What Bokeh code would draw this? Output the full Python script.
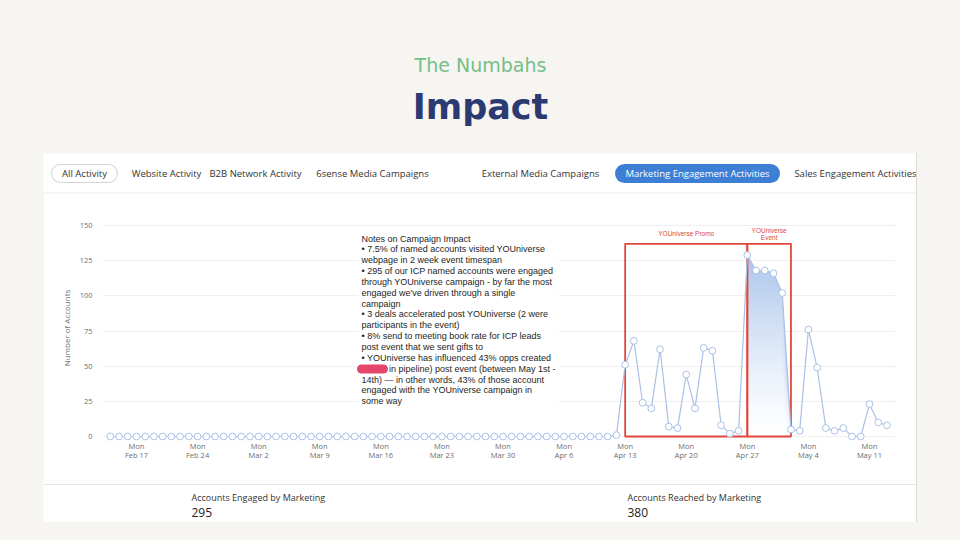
from datetime import datetime, timedelta
import pandas as pd
from bokeh.plotting import figure
from bokeh.models import Range1d, FixedTicker, Label, Spacer, ColumnDataSource
from bokeh.layouts import column, row
from bokeh.core.properties import value
from bokeh.embed import file_html
from bokeh.resources import INLINE

# ---------------- data ----------------
first_day = "2020-02-14"
last_day = "2020-05-13"
# daily accounts, Feb 14 .. Apr 12
pre_campaign_values = [
    0, 0, 0, 0, 0, 0, 0, 0, 0, 0, 0, 0, 0, 0, 0, 0,          # Feb 14-29
    0, 0, 0, 0, 0, 0, 0, 0, 0, 0, 0, 0, 0, 0, 0, 0,          # Mar 1-16
    0, 0, 0, 0, 0, 0, 0, 0, 0, 0, 0, 0, 0, 0, 0,             # Mar 17-31
    0, 0, 0, 0, 0, 0, 0, 0, 0, 0, 0, 1,                      # Apr 1-12
]
# daily accounts, Apr 13 .. May 13
campaign_values = [
    51, 68, 24, 20, 62, 7, 6, 44, 20, 63, 61, 8, 2, 4,       # Apr 13-26
    129, 118, 118, 116, 102, 5,                              # Apr 27 - May 2
    4, 76, 49, 6, 4, 6, 0, 0, 23, 10, 8,                     # May 3-13
]
account_values = pre_campaign_values + campaign_values

tick_dates = ["2020-02-17", "2020-02-24", "2020-03-02", "2020-03-09", "2020-03-16",
              "2020-03-23", "2020-03-30", "2020-04-06", "2020-04-13", "2020-04-20",
              "2020-04-27", "2020-05-04", "2020-05-11"]
tick_labels = ["Mon\nFeb 17", "Mon\nFeb 24", "Mon\nMar 2", "Mon\nMar 9", "Mon\nMar 16",
               "Mon\nMar 23", "Mon\nMar 30", "Mon\nApr 6", "Mon\nApr 13", "Mon\nApr 20",
               "Mon\nApr 27", "Mon\nMay 4", "Mon\nMay 11"]
y_ticks = [0, 25, 50, 75, 100, 125, 150]

period_names = ["YOUniverse Promo", "YOUniverse\nEvent"]
period_starts = ["2020-04-13", "2020-04-27"]
period_ends = ["2020-04-27", "2020-05-02"]
period_top = 137

event_fill_start = "2020-04-27"
event_fill_end = "2020-05-02"

tabs = ["All Activity", "Website Activity", "B2B Network Activity", "6sense Media Campaigns",
        "External Media Campaigns", "Marketing Engagement Activities", "Sales Engagement Activities"]
stat_names = ["Accounts Engaged by Marketing", "Accounts Reached by Marketing"]
stat_values = ["295", "380"]

NB = "\u00a0"
notes_text = (
    "Notes on Campaign Impact\n"
    "\u2022 7.5% of named accounts visited YOUniverse\n"
    "webpage in 2 week event timespan\n"
    "\u2022 295 of our ICP named accounts were engaged\n"
    "through YOUniverse campaign - by far the most\n"
    "engaged we've driven through a single\n"
    "campaign\n"
    "\u2022 3 deals accelerated post YOUniverse (2 were\n"
    "participants in the event)\n"
    "\u2022 8% send to meeting book rate for ICP leads\n"
    "post event that we sent gifts to\n"
    "\u2022 YOUniverse has influenced 43% opps created\n"
    + NB * 11 + "in pipeline) post event (between May 1st -\n"
    "14th) \u2014 in other words, 43% of those account\n"
    "engaged with the YOUniverse campaign in\n"
    "some way"
)

# ---------------- style ----------------
BG = "#f7f5f2"
LINE_BLUE = "#aac1e7"
RED = "#e0473c"
FONT = "Open Sans"

dates = pd.date_range(first_day, last_day, freq="D")
src = ColumnDataSource(dict(date=dates, v=account_values))


def deco_fig(w, h, bg):
    f = figure(width=w, height=h, x_range=Range1d(0, w), y_range=Range1d(h, 0),
               toolbar_location=None, output_backend="svg", min_border=0,
               x_axis_location=None, y_axis_location=None,
               background_fill_color=bg, border_fill_color=bg, outline_line_color=None)
    f.grid.visible = False
    return f


# ---------------- header ----------------
header = deco_fig(960, 153, BG)
header.text(x=[480], y=[64], text=["The Numbahs"], text_font=value("DejaVu Sans"),
            text_font_size="19px", text_color="#74c087", text_align="center",
            text_baseline="middle")
header.text(x=[480], y=[106], text=["Impact"], text_font=value("DejaVu Sans"),
            text_font_size="35px", text_font_style="bold", text_color="#2c3a72",
            text_align="center", text_baseline="middle")

# ---------------- tabs row ----------------
tabs_fig = deco_fig(873, 40, "white")
tab_x = [41, 123, 212, 329, 497, 654, 812]
tabs_fig.segment(x0=[17], y0=[20], x1=[65], y1=[20], line_width=19, line_cap="round",
                 line_color="#d4d4d4")
tabs_fig.segment(x0=[17], y0=[20], x1=[65], y1=[20], line_width=17, line_cap="round",
                 line_color="white")
tabs_fig.segment(x0=[581], y0=[20], x1=[727], y1=[20], line_width=19, line_cap="round",
                 line_color="#3c7fd5")
tab_colors = ["#333333"] * 5 + ["white", "#333333"]
tabs_fig.text(x=tab_x, y=[20] * 7, text=tabs, text_font=value(FONT), text_font_size="9.5px",
              text_color=tab_colors, text_align="center", text_baseline="middle")
tabs_fig.segment(x0=[0], y0=[39.5], x1=[873], y1=[39.5], line_color="#e8e8e8", line_width=1)

# ---------------- chart ----------------
px_per_day = 8.726
px_per_unit = 211 / 150
ref_monday = datetime(2020, 2, 17)
x_start = ref_monday - timedelta(days=33 / px_per_day)
x_end = x_start + timedelta(days=792 / px_per_day)
y_start = -4 / px_per_unit
y_end = y_start + 225 / px_per_unit

p = figure(width=873, height=287, x_axis_type="datetime",
           x_range=Range1d(x_start, x_end), y_range=Range1d(y_start, y_end),
           toolbar_location=None, output_backend="svg",
           min_border_left=60, min_border_right=21, min_border_top=22, min_border_bottom=40,
           background_fill_color="white", border_fill_color="white", outline_line_color=None)

tick_ms = [int(pd.Timestamp(d).value // 10**6) for d in tick_dates]
p.xaxis.ticker = FixedTicker(ticks=tick_ms)
p.xaxis.major_label_overrides = dict(zip(tick_ms, tick_labels))
p.xaxis.axis_line_color = None
p.xaxis.major_tick_line_color = None
p.xaxis.minor_tick_line_color = None
p.xaxis.major_tick_out = 0
p.xaxis.major_tick_in = 0
p.xaxis.major_label_standoff = 0
p.xaxis.major_label_text_font = FONT
p.xaxis.major_label_text_font_size = "7.5px"
p.xaxis.major_label_text_color = "#6e6e6e"
p.xaxis.major_label_text_line_height = 0.92

p.yaxis.ticker = FixedTicker(ticks=y_ticks)
p.yaxis.axis_line_color = None
p.yaxis.major_tick_line_color = None
p.yaxis.minor_tick_line_color = None
p.yaxis.major_tick_out = 0
p.yaxis.major_tick_in = 0
p.yaxis.major_label_standoff = 11
p.yaxis.major_label_text_font = FONT
p.yaxis.major_label_text_font_size = "7.5px"
p.yaxis.major_label_text_color = "#6e6e6e"
p.yaxis.axis_label = "Number of Accounts"
p.yaxis.axis_label_text_font = FONT
p.yaxis.axis_label_text_font_size = "8px"
p.yaxis.axis_label_text_font_style = "normal"
p.yaxis.axis_label_text_color = "#6e6e6e"
p.yaxis.axis_label_standoff = 5

p.xgrid.visible = False
p.ygrid.grid_line_color = "#efefef"

# gradient fill under the event days: nested areas, darkest (top) first
mask = (dates >= pd.Timestamp(event_fill_start)) & (dates <= pd.Timestamp(event_fill_end))
ev_dates = dates[mask]
ev_vals = [v for v, m in zip(account_values, mask) if m]
band = 4
top_c = (170, 197, 235)
vmax = max(ev_vals)
n_bands = int(vmax // band) + 1
for k in reversed(range(n_bands)):
    hi = (k + 1) * band
    t = min(1.0, (hi - band / 2) / vmax) ** 1.3
    c = tuple(int(round(255 + (tc - 255) * t)) for tc in top_c)
    col = "#%02x%02x%02x" % c
    p.varea(x=ev_dates, y1=[0] * len(ev_vals), y2=[min(v, hi) for v in ev_vals],
            fill_color=col, fill_alpha=1.0)

# period boxes
p.quad(left=pd.to_datetime(period_starts), right=pd.to_datetime(period_ends),
       bottom=[0, 0], top=[period_top, period_top], fill_color=None,
       line_color=RED, line_width=1.8)

p.line("date", "v", source=src, line_color=LINE_BLUE, line_width=1.2)
p.scatter("date", "v", source=src, marker="circle", size=6.8, fill_color="white",
          line_color=LINE_BLUE, line_width=1)

for name, s, e in zip(period_names, period_starts, period_ends):
    mid = pd.Timestamp(s) + (pd.Timestamp(e) - pd.Timestamp(s)) / 2
    p.add_layout(Label(x=mid.to_pydatetime(), y=period_top + 7, text=name,
                       text_font="Liberation Sans", text_font_size="6.5px",
                       text_color=RED, text_align="center", text_baseline="middle",
                       text_line_height=1.0))

notes_x = ref_monday + timedelta(days=(358 - 136) / px_per_day)
notes_y = (436 - 230) / px_per_unit
p.add_layout(Label(x=notes_x, y=notes_y, text=notes_text, text_font="Liberation Sans",
                   text_font_size="9px", text_color="#1e1e1e", text_align="left",
                   text_baseline="top", text_line_height=1.085,
                   background_fill_color="white", padding=3))

# redaction scribble over the hidden figure in the notes
red_y = (436 - 368.5) / px_per_unit
p.segment(x0=[ref_monday + timedelta(days=(361 - 136) / px_per_day)], y0=[red_y],
          x1=[ref_monday + timedelta(days=(383 - 136) / px_per_day)], y1=[red_y],
          line_width=9, line_cap="round", line_color="#e5466c", level="overlay")

# ---------------- stats row ----------------
stats = deco_fig(873, 42, "white")
stats.segment(x0=[0], y0=[4], x1=[873], y1=[4], line_color="#e6e6e6", line_width=1)
stats.text(x=[148, 584], y=[17, 17], text=stat_names, text_font=value(FONT),
           text_font_size="9px", text_color="#333333", text_baseline="middle")
stats.text(x=[148, 584], y=[32, 32], text=stat_values, text_font=value(FONT),
           text_font_size="12px", text_color="#222222", text_baseline="middle")


def padded(fig, h):
    return row(Spacer(width=43, height=h, styles={"background-color": BG}), fig,
               Spacer(width=44, height=h, styles={"background-color": BG,
                                                  "box-shadow": "inset 1px 0 0 #dcdcdc"}),
               spacing=0)


layout = column(header, padded(tabs_fig, 40), padded(p, 287), padded(stats, 42),
                Spacer(width=960, height=18, styles={"background-color": BG}),
                spacing=0, styles={"background-color": BG})

open("out.html", "w").write(file_html(layout, INLINE))
